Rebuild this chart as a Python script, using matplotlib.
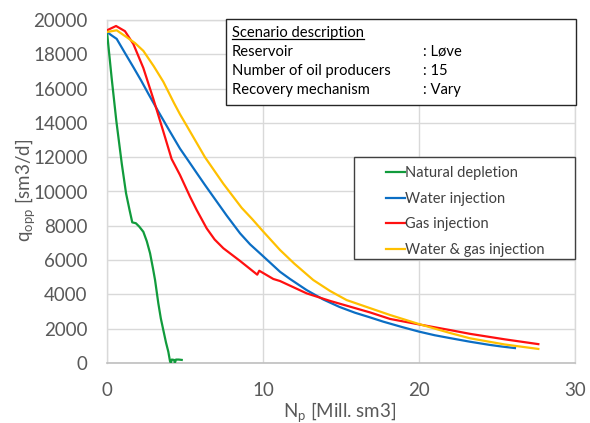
import numpy as np
import matplotlib
matplotlib.use('Agg')
import matplotlib.pyplot as plt
from matplotlib.patches import Rectangle
from matplotlib.lines import Line2D

plt.rcParams['font.family'] = ['Lato', 'DejaVu Sans']
plt.rcParams['mathtext.default'] = 'regular'

# cumulative oil produced [Mill. sm3] vs. oil rate [sm3/d]
natural_x = [0, 0.3, 0.6, 0.95, 1.22, 1.45, 1.62, 1.85, 2.07, 2.33, 2.55, 2.76, 2.95,
             3.08, 3.29, 3.45, 3.61, 3.78, 3.93, 4.04, 4.1, 4.15, 4.3, 4.35, 4.42, 4.6, 4.79]
natural_y = [19300, 16600, 14100, 11600, 9900, 8900, 8200, 8150, 7950, 7650, 7100, 6400, 5500,
             4840, 3480, 2600, 1920, 1200, 660, 100, 0, 200, 180, 0, 200, 200, 180]

water_x = [0, 0.3, 0.62, 1.2, 1.69, 2.2, 2.65, 3.3, 4.0, 4.68, 5.21, 5.75, 6.28, 6.81, 7.67,
           8.53, 9.17, 9.98, 11.09, 11.73, 12.8, 13.87, 14.9, 15.9, 16.86, 17.71, 18.9, 20.0,
           21.0, 22.0, 23.27, 24.5, 25.3, 26.15]
water_y = [19300, 19100, 18900, 18000, 17250, 16450, 15700, 14650, 13550, 12500, 11800, 11080,
           10380, 9700, 8600, 7560, 6920, 6250, 5320, 4900, 4250, 3700, 3270, 2930, 2660, 2410,
           2100, 1830, 1620, 1450, 1240, 1060, 960, 870]

gas_x = [0, 0.58, 1.15, 1.69, 2.33, 2.97, 3.61, 4.14, 4.68, 5.32, 5.75, 6.39, 6.9, 7.46, 8.53,
         9.55, 9.63, 9.76, 10.66, 11.09, 12.8, 14.3, 16.86, 18.14, 20.0, 21.99, 23.27, 25.5, 27.65]
gas_y = [19400, 19650, 19350, 18600, 17200, 15400, 13500, 11900, 10960, 9700, 8920, 7850, 7200,
         6690, 5950, 5210, 5150, 5380, 4900, 4780, 4060, 3620, 2950, 2570, 2250, 1920, 1700,
         1380, 1100]

wag_x = [0, 0.62, 1.26, 1.8, 2.33, 3.0, 3.61, 4.3, 4.68, 5.1, 6.28, 7.46, 8.63, 9.3, 9.98,
         11.09, 12.0, 13.22, 14.3, 15.36, 16.86, 18.14, 20.0, 21.99, 23.27, 25.5, 27.65]
wag_y = [19300, 19400, 19000, 18650, 18200, 17300, 16400, 15150, 14500, 13850, 12000, 10450,
         9050, 8400, 7700, 6590, 5800, 4840, 4200, 3670, 3200, 2800, 2270, 1750, 1440, 1080, 820]

series = [
    ('Natural depletion', natural_x, natural_y, '#119b3c'),
    ('Water injection', water_x, water_y, '#0b6ec4'),
    ('Gas injection', gas_x, gas_y, '#ff1010'),
    ('Water & gas injection', wag_x, wag_y, '#ffc000'),
]

W, H = 590, 423
fig = plt.figure(figsize=(W / 100, H / 100), dpi=100)
ax = fig.add_axes([107 / W, 1 - 363 / H, (575 - 107) / W, (363 - 20) / H])

for name, xs, ys, c in series:
    ax.plot(xs, ys, color=c, lw=1.6, label=name, zorder=3)

ax.set_xlim(0, 30)
ax.set_ylim(0, 20000)
ax.set_xticks([0, 10, 20, 30])
ax.set_yticks(np.arange(0, 20001, 2000))
ax.grid(True, color='#d9d9d9', lw=1.0)
ax.set_axisbelow(True)
for s in ax.spines.values():
    s.set_color('#d9d9d9')
    s.set_linewidth(1.0)
ax.spines['bottom'].set_color('#bfbfbf')
ax.spines['bottom'].set_linewidth(1.2)
ax.tick_params(length=0, labelsize=13.5, labelcolor='#595959')
ax.tick_params(axis='y', pad=14)
ax.tick_params(axis='x', pad=14)

ax.set_xlabel('N$_{p}$ [Mill. sm3]', fontsize=13.5, color='#595959')
ax.xaxis.set_label_coords((340 - 107) / 468, (363 - 412) / 343)
ax.xaxis.label.set_va('center')
ax.set_ylabel('q$_{opp}$ [sm3/d]', fontsize=13.5, color='#595959')
ax.yaxis.set_label_coords((25 - 107) / 468, (363 - 190) / 343)
ax.yaxis.label.set_va('center')

# legend with its own wider frame
ax.add_patch(Rectangle((354 / W, 1 - 259 / H), (575 - 354) / W, (259 - 157) / H,
                       transform=fig.transFigure, facecolor='white', edgecolor='#404040',
                       lw=1.0, zorder=5, clip_on=False))
leg = ax.legend(loc='upper left', bbox_to_anchor=((386 - 107) / 468, 1 - (166 - 20) / 343),
                fontsize=10.5, frameon=False, handlelength=1.3, handletextpad=0.0,
                borderpad=0.0, labelspacing=0.8, borderaxespad=0)
leg.set_zorder(6)
for t in leg.get_texts():
    t.set_color('#404040')

# scenario description box
box_l, box_r, box_t, box_b = 226, 576, 19, 105
ax.add_patch(Rectangle((box_l / W, 1 - box_b / H), (box_r - box_l) / W, (box_b - box_t) / H,
                       transform=fig.transFigure, facecolor='white', edgecolor='#262626',
                       lw=1.0, zorder=5, clip_on=False))
rows = [('Reservoir', ': Løve'), ('Number of oil producers', ': 15'), ('Recovery mechanism', ': Vary')]
title = fig.text(232 / W, 1 - 33 / H, 'Scenario description', fontsize=10.6, va='center',
                 ha='left', zorder=6)
for i, (k, v) in enumerate(rows):
    y = 1 - (52 + i * 19) / H
    fig.text(232 / W, y, k, fontsize=10.6, va='center', ha='left', zorder=6)
    fig.text(423 / W, y, v, fontsize=10.6, va='center', ha='left', zorder=6)

fig.canvas.draw()
bb = title.get_window_extent().transformed(fig.transFigure.inverted())
fig.lines.append(Line2D([bb.x0, bb.x1], [bb.y0 + 0.002, bb.y0 + 0.002], transform=fig.transFigure,
                        color='black', lw=0.9, zorder=6))

fig.savefig('out.png', dpi=100)
